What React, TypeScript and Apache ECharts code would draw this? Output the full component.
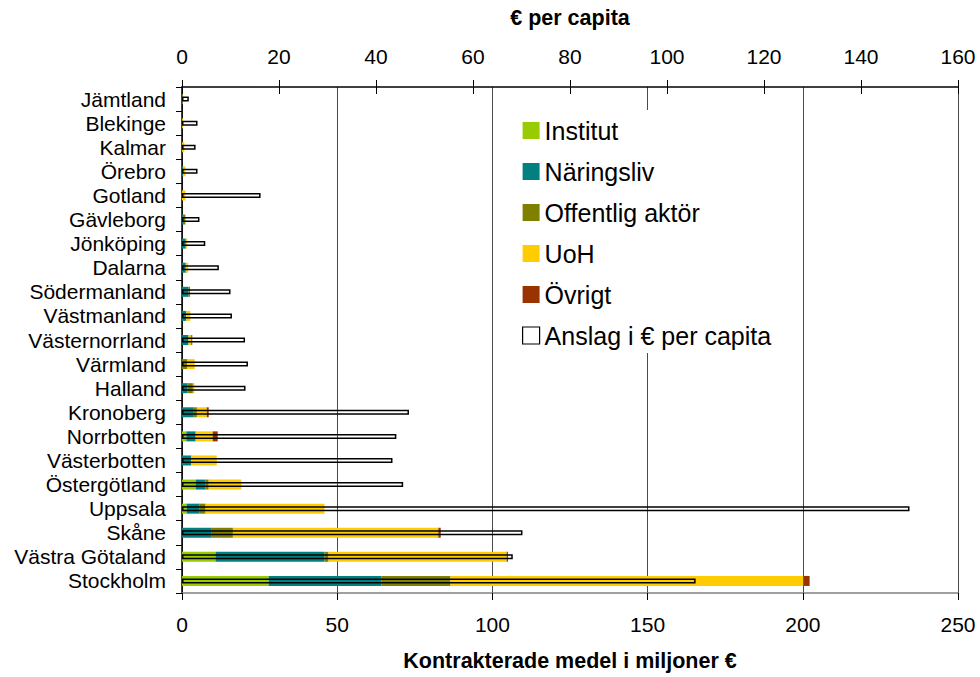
import React, { useEffect, useRef } from 'react';
import * as echarts from 'echarts';

const categories = [
  'Jämtland', 'Blekinge', 'Kalmar', 'Örebro', 'Gotland', 'Gävleborg', 'Jönköping',
  'Dalarna', 'Södermanland', 'Västmanland', 'Västernorrland', 'Värmland', 'Halland',
  'Kronoberg', 'Norrbotten', 'Västerbotten', 'Östergötland', 'Uppsala', 'Skåne',
  'Västra Götaland', 'Stockholm',
];

// Kontrakterade medel i miljoner €
const institut = [0, 0, 0, 0, 0, 0, 0, 0, 0, 0, 0, 0, 0, 0, 1.4, 0, 4.4, 1.5, 0, 10.8, 27.9];
const naringsliv = [0, 0, 0, 0.3, 0, 0.3, 1.1, 1.1, 2.1, 1.4, 2.1, 0, 1.7, 3.8, 3.0, 3.0, 3.2, 4.2, 9.6, 35.1, 36.4];
const offentlig = [0.25, 0, 0, 0, 0, 0.8, 0.3, 0.3, 0.5, 0, 0, 1.7, 1.8, 1.0, 0, 0, 1.0, 1.9, 6.8, 1.3, 22.2];
const uoh = [0.1, 0.3, 0.75, 0.8, 1.1, 0, 0.3, 0.6, 0, 1.3, 0.9, 2.4, 0.5, 3.2, 5.5, 8.2, 10.5, 38.3, 66.2, 57.4, 113.7];
const ovrigt = [0, 0, 0, 0, 0, 0, 0, 0, 0, 0, 0.3, 0, 0, 0.6, 1.6, 0, 0, 0, 0.75, 0.4, 2.0];

// Anslag i € per capita
const perCapita = [1.4, 3.2, 2.8, 3.2, 16.2, 3.6, 4.8, 7.6, 10.0, 10.3, 13.0, 13.6, 13.1, 46.8, 44.2, 43.4, 45.6, 150, 70.2, 68.2, 105.9];

const seriesNames = ['Institut', 'Näringsliv', 'Offentlig aktör', 'UoH', 'Övrigt'];
const seriesColors = ['#99CC00', '#008080', '#808000', '#FFCC00', '#993300'];
const perCapitaName = 'Anslag i € per capita';

const FONT = '"Liberation Sans", Arial, sans-serif';

export default function App() {
  const ref = useRef<HTMLDivElement>(null);

  useEffect(() => {
    if (!ref.current) return;
    const chart = echarts.init(ref.current, null, { renderer: 'svg' });
    const stackData = [institut, naringsliv, offentlig, uoh, ovrigt];

    const option: any = {
      animation: false,
      backgroundColor: '#ffffff',
      textStyle: { fontFamily: FONT },
      grid: { left: 182, right: 22, top: 87, bottom: 79, containLabel: false },
      legend: {
        orient: 'vertical',
        left: 515,
        top: 110,
        padding: [8, 10, 5, 7],
        backgroundColor: '#ffffff',
        itemWidth: 17,
        itemHeight: 17,
        itemGap: 16,
        selectedMode: false,
        icon: 'rect',
        textStyle: { fontFamily: FONT, fontSize: 25, color: '#000', lineHeight: 25 },
        data: [
          ...seriesNames.map((n) => ({ name: n })),
          {
            name: perCapitaName,
            itemStyle: { color: '#ffffff', borderColor: '#000000', borderWidth: 1.2 },
          },
        ],
      },
      xAxis: [
        {
          type: 'value',
          position: 'bottom',
          min: 0,
          max: 250,
          interval: 50,
          name: 'Kontrakterade medel i miljoner €',
          nameLocation: 'middle',
          nameGap: 57,
          nameTextStyle: { fontFamily: FONT, fontSize: 21.5, fontWeight: 'bold', color: '#000' },
          axisLine: { show: true, lineStyle: { color: '#808080', width: 1.5 } },
          axisTick: { show: true, length: 7, lineStyle: { color: '#000', width: 1 } },
          axisLabel: { fontFamily: FONT, fontSize: 21, color: '#000', margin: 21 },
          splitLine: { show: true, lineStyle: { color: '#4a4a4a', width: 1 } },
        },
        {
          type: 'value',
          position: 'top',
          min: 0,
          max: 160,
          interval: 20,
          name: '€ per capita',
          nameLocation: 'middle',
          nameGap: 58,
          nameTextStyle: { fontFamily: FONT, fontSize: 21.5, fontWeight: 'bold', color: '#000' },
          axisLine: { show: true, lineStyle: { color: '#000', width: 1.5 } },
          axisTick: { show: true, length: 7, lineStyle: { color: '#000', width: 1 } },
          axisLabel: { fontFamily: FONT, fontSize: 21, color: '#000', margin: 20 },
          splitLine: { show: false },
        },
        {
          type: 'value',
          position: 'top',
          min: 0,
          max: 160,
          interval: 20,
          axisLine: { show: false },
          axisTick: { show: true, inside: true, length: 7, lineStyle: { color: '#000', width: 1 } },
          axisLabel: { show: false },
          splitLine: { show: false },
        },
      ],
      yAxis: [
        {
          type: 'category',
          data: categories,
          inverse: true,
          axisLine: { show: true, lineStyle: { color: '#000', width: 1.5 } },
          axisTick: { show: true, length: 6, interval: 0, lineStyle: { color: '#000', width: 1 } },
          axisLabel: { fontFamily: FONT, fontSize: 21, color: '#000', margin: 16, interval: 0 },
          splitLine: { show: false },
        },
        {
          type: 'category',
          data: categories,
          inverse: true,
          show: false,
        },
      ],
      series: [
        ...seriesNames.map((name, i) => ({
          name,
          type: 'bar',
          stack: 'total',
          xAxisIndex: 0,
          yAxisIndex: 0,
          barWidth: 10,
          itemStyle: { color: seriesColors[i] },
          data: stackData[i],
        })),
        {
          name: perCapitaName,
          type: 'bar',
          xAxisIndex: 1,
          yAxisIndex: 1,
          barWidth: 5,
          z: 5,
          itemStyle: { color: 'rgba(255,255,255,0)', borderColor: '#000000', borderWidth: 1.5 },
          data: perCapita,
        },
      ],
    };

    chart.setOption(option);
    return () => chart.dispose();
  }, []);

  return (
    <div
      ref={ref}
      style={{ position: 'absolute', left: 0, top: 0, width: 980, height: 677, background: '#fff' }}
    />
  );
}
